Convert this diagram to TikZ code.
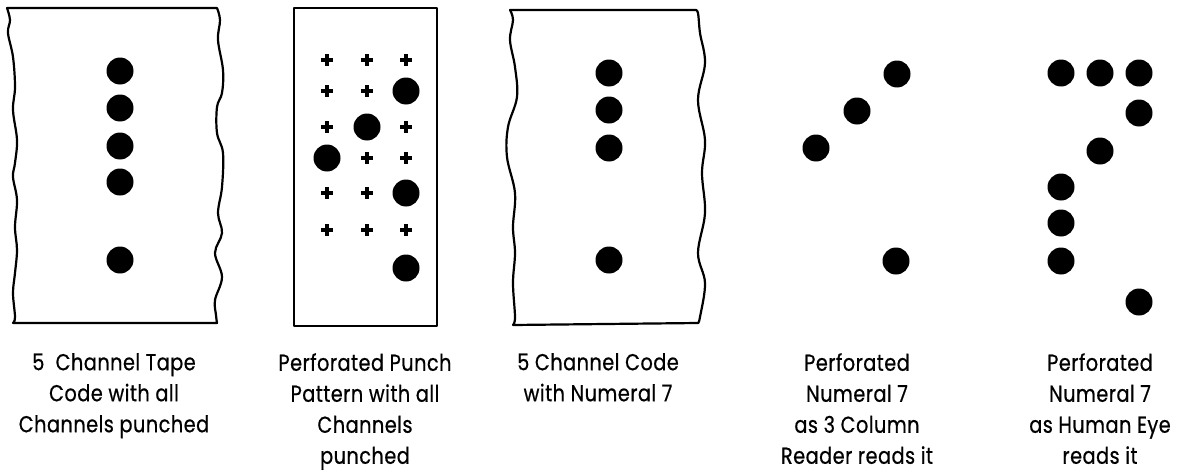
\documentclass[tikz,border=0pt]{standalone}
\usepackage{fontspec}
\setmainfont[FakeStretch=0.84,FakeBold=0.6,LetterSpace=2]{Poppins}
\begin{document}
\begin{tikzpicture}[x=1pt,y=-1pt,
  edge/.style={line width=2.2pt,line join=round,line cap=round},
  hole/.style={circle,fill=black,inner sep=0pt,minimum size=27pt},
  plusmark/.style={line width=3.4pt},
  captext/.style={align=center,font=\fontsize{23}{31}\selectfont,anchor=north,inner sep=0pt}]
\useasboundingbox (0,0) rectangle (1181,471);
% ---- panel 1: 5 channel tape
\draw[edge] plot[smooth,tension=0.6] coordinates {(13,323)(15,317)(13,293)(15,273)(17,250)(15,227)(17,200)(13,177)(15,163)(17,140)(13,110)(15,87)(13,57)(8,33)(10,20)(7,8)}
  -- (217,8)
  plot[smooth,tension=0.6] coordinates {(217,8)(220,20)(218,40)(223,70)(222,93)(217,107)(217,133)(223,153)(222,187)(218,213)(222,233)(215,253)(222,277)(215,300)(216,315)(217,323)}
  -- (13,323);
\foreach \y [count=\i] in {71,108,146,182,260}
  \node[hole] (a\i) at (120,\y) {};
% ---- panel 2: punch pattern
\draw[edge] (294,8) rectangle (437,326);
\foreach \x/\y in {327/60,367/60,406/60, 327/91,367/91, 327/127,406/127, 367/158,406/158, 327/193,367/193, 327/230,367/230,406/230}
  \draw[plusmark] (\x-6,\y) -- (\x+6,\y) (\x,\y-6) -- (\x,\y+6);
\node[hole] (b1) at (406,91) {};
\node[hole] (b2) at (367,127) {};
\node[hole] (b3) at (327,158) {};
\node[hole] (b4) at (406,193) {};
\node[hole] (b5) at (406,268) {};
% ---- panel 3: numeral 7 code
\draw[edge] plot[smooth,tension=0.6] coordinates {(513,325)(515,317)(513,283)(515,253)(513,227)(515,193)(507,157)(508,127)(517,97)(515,67)(510,40)(513,20)(510,10)}
  -- (695,10)
  plot[smooth,tension=0.6] coordinates {(695,10)(698,13)(700,33)(705,63)(698,100)(705,140)(702,173)(705,213)(698,253)(705,283)(700,317)(698,323)}
  -- (513,325);
\foreach \y [count=\i] in {73,110,148,260}
  \node[hole] (c\i) at (609,\y) {};
% ---- panel 4: reader view
\node[hole] (d1) at (897,74) {};
\node[hole] (d2) at (857,111) {};
\node[hole] (d3) at (816,148) {};
\node[hole] (d4) at (896,261) {};
% ---- panel 5: human eye view
\node[hole] (e1) at (1061,73) {};
\node[hole] (e2) at (1100,73) {};
\node[hole] (e3) at (1139,73) {};
\node[hole] (e4) at (1139,113) {};
\node[hole] (e5) at (1100,151) {};
\node[hole] (e6) at (1061,187) {};
\node[hole] (e7) at (1061,223) {};
\node[hole] (e8) at (1061,261) {};
\node[hole] (e9) at (1139,302) {};
% ---- captions
\node[captext] (t1) at (114,353) {5\ \ Channel Tape\\Code with all\\Channels punched};
\node[captext] (t2) at (365,353) {Perforated Punch\\Pattern with all\\Channels\\punched};
\node[captext] (t3) at (598,353) {5 Channel Code\\with Numeral 7};
\node[captext] (t4) at (857,353) {Perforated\\Numeral 7\\as 3 Column\\Reader reads it};
\node[captext] (t5) at (1100,353) {Perforated\\Numeral 7\\as Human Eye\\reads it};
\end{tikzpicture}
\end{document}
